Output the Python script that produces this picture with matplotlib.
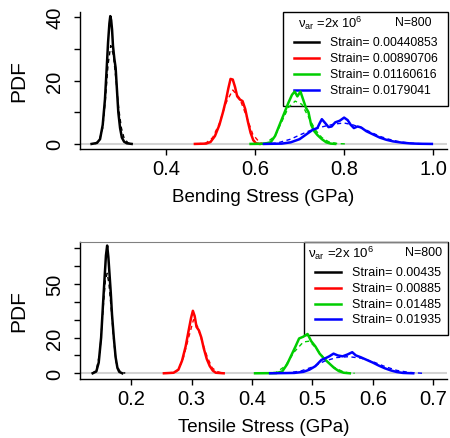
import matplotlib
matplotlib.use("Agg")
import matplotlib.pyplot as plt
from matplotlib.lines import Line2D
from matplotlib.patches import Rectangle

plt.rcParams['font.family'] = ['Liberation Sans', 'DejaVu Sans']
plt.rcParams['mathtext.fontset'] = 'custom'
plt.rcParams['mathtext.rm'] = 'Liberation Sans'

# ---- bending stress densities (GPa vs PDF), solid = empirical, dashed = fitted
bend_labels = ['Strain= 0.00440853', 'Strain= 0.00890706',
               'Strain= 0.01160616', 'Strain= 0.0179041']

bend_k_x = [0.233, 0.245, 0.252, 0.258, 0.263, 0.267, 0.270, 0.273, 0.275, 0.277,
            0.279, 0.281, 0.284, 0.287, 0.290, 0.293, 0.297, 0.301, 0.306, 0.312, 0.323]
bend_k_y = [0, 0.3, 1.5, 6, 14, 24, 32, 38, 40.3, 39,
            36, 31, 27, 24, 17, 10, 5, 2, 0.7, 0.2, 0]
bend_k_fx = [0.240, 0.250, 0.258, 0.264, 0.270, 0.276, 0.282, 0.288, 0.294, 0.300, 0.306, 0.315, 0.325]
bend_k_fy = [0, 1, 5, 14, 25, 31, 28, 20, 11, 5, 1.8, 0.3, 0]

bend_r_x = [0.465, 0.490, 0.500, 0.510, 0.520, 0.528, 0.535, 0.540, 0.545, 0.550,
            0.555, 0.560, 0.566, 0.572, 0.578, 0.584, 0.590, 0.596, 0.602, 0.610]
bend_r_y = [0, 0.1, 0.6, 2.5, 6, 10, 14, 17.5, 20.5, 20.3,
            18, 15, 14, 13.5, 11, 7, 3.5, 1.2, 0.2, 0]
bend_r_fx = [0.470, 0.490, 0.505, 0.520, 0.535, 0.550, 0.565, 0.580, 0.595, 0.610, 0.620]
bend_r_fy = [0, 0.3, 2, 6.5, 13, 17, 14.5, 9, 3, 0.5, 0]

bend_g_x = [0.590, 0.620, 0.635, 0.645, 0.655, 0.665, 0.675, 0.683, 0.689, 0.695, 0.702,
            0.708, 0.714, 0.720, 0.726, 0.733, 0.740, 0.750, 0.760, 0.770, 0.780]
bend_g_y = [0, 0.05, 0.5, 2.5, 6, 9.5, 13, 15.5, 16.5, 15, 16.5,
            14, 11.5, 10, 6, 4, 2.8, 1.5, 0.5, 0.1, 0]
bend_g_fx = [0.600, 0.625, 0.645, 0.660, 0.675, 0.690, 0.705, 0.720, 0.735, 0.750, 0.765, 0.785, 0.806]
bend_g_fy = [0, 0.3, 2.5, 7, 11.5, 13.5, 12.5, 8.5, 4.5, 2, 0.7, 0.1, 0]

bend_b_x = [0.620, 0.660, 0.680, 0.700, 0.715, 0.730, 0.740, 0.745, 0.750, 0.758, 0.765,
            0.772, 0.780, 0.790, 0.800, 0.808, 0.815, 0.822, 0.830, 0.838, 0.850,
            0.865, 0.880, 0.895, 0.910, 0.930, 0.950, 0.970, 0.997]
bend_b_y = [0, 0.1, 0.5, 1.5, 3, 4.5, 5, 6.5, 7.8, 6.5, 5.3,
            5.5, 6.8, 7.3, 8.3, 7.5, 6, 5, 5.5, 5.2, 4,
            3, 2, 1.3, 0.8, 0.4, 0.15, 0.05, 0]
bend_b_fx = [0.620, 0.650, 0.680, 0.700, 0.720, 0.740, 0.760, 0.780, 0.800, 0.820,
             0.840, 0.860, 0.880, 0.900, 0.920, 0.940, 0.960, 0.980, 0.990]
bend_b_fy = [0, 0.3, 1.5, 2.8, 4, 5, 5.7, 6.3, 6.6, 6,
             5, 3.7, 2.4, 1.5, 0.8, 0.4, 0.15, 0.05, 0]

# ---- tensile stress densities
tens_labels = ['Strain= 0.00435', 'Strain= 0.00885',
               'Strain= 0.01485', 'Strain= 0.01935']

tens_k_x = [0.136, 0.142, 0.146, 0.150, 0.153, 0.156, 0.158, 0.160, 0.162,
            0.164, 0.166, 0.168, 0.171, 0.174, 0.177, 0.180, 0.185]
tens_k_y = [0, 1, 6, 20, 38, 55, 66, 71.5, 65,
            55, 45, 33, 20, 9, 3, 0.8, 0]
tens_k_fx = [0.135, 0.142, 0.148, 0.153, 0.157, 0.160, 0.163, 0.167, 0.171, 0.175, 0.180, 0.190]
tens_k_fy = [0, 1.5, 12, 35, 52, 56, 50, 35, 18, 6, 1.5, 0]

tens_r_x = [0.254, 0.270, 0.278, 0.284, 0.290, 0.295, 0.299, 0.302, 0.305,
            0.308, 0.312, 0.316, 0.320, 0.325, 0.330, 0.335, 0.340, 0.353]
tens_r_y = [0, 0.3, 2, 7, 15, 24, 31, 35, 32,
            26, 24, 20, 14, 8, 4, 1.5, 0.3, 0]
tens_r_fx = [0.260, 0.275, 0.285, 0.295, 0.303, 0.310, 0.318, 0.326, 0.334, 0.342, 0.350, 0.355]
tens_r_fy = [0, 1, 7, 20, 30, 26, 17, 9, 3, 1, 0.2, 0]

tens_g_x = [0.405, 0.440, 0.450, 0.458, 0.465, 0.472, 0.478, 0.485, 0.492,
            0.498, 0.505, 0.512, 0.520, 0.528, 0.536, 0.544, 0.552, 0.562]
tens_g_y = [0, 0.1, 1, 5, 10, 15, 19.5, 20.5, 22,
            18, 15, 11, 8, 5.5, 3, 1.2, 0.3, 0]
tens_g_fx = [0.410, 0.440, 0.455, 0.470, 0.485, 0.495, 0.505, 0.520, 0.535, 0.550, 0.560, 0.570]
tens_g_fy = [0, 0.5, 4, 12, 17.5, 18, 14.5, 8, 3.5, 1, 0.2, 0]

tens_b_x = [0.430, 0.470, 0.485, 0.495, 0.505, 0.515, 0.522, 0.528, 0.535, 0.542,
            0.550, 0.558, 0.566, 0.572, 0.580, 0.590, 0.600, 0.610, 0.620,
            0.630, 0.640, 0.650, 0.667]
tens_b_y = [0, 0.2, 0.8, 2, 4, 7.5, 8.5, 9.5, 11, 10,
            9.5, 10.5, 11.8, 10, 9, 7.5, 6, 4.3, 2.8,
            1.6, 0.7, 0.2, 0]
tens_b_fx = [0.430, 0.460, 0.480, 0.500, 0.520, 0.540, 0.560, 0.580, 0.600, 0.620, 0.640, 0.660, 0.683]
tens_b_fy = [0, 0.3, 1.2, 3.5, 6.8, 8.8, 9.3, 8.5, 6.5, 3.8, 1.6, 0.5, 0]

colors = ['black', '#ff0000', '#00cd00', '#0000ff']

W, H = 450, 439
fig = plt.figure(figsize=(W / 100, H / 100), dpi=100)


def px_axes(l, t, r, b):
    return fig.add_axes([l / W, 1 - b / H, (r - l) / W, (b - t) / H])


def style(ax):
    for s in ['top', 'right']:
        ax.spines[s].set_visible(False)
    for s in ['left', 'bottom']:
        ax.spines[s].set_linewidth(1.0)
    ax.tick_params(length=4.3, width=1, labelsize=14.5)
    ax.tick_params(axis='x', pad=3)
    ax.tick_params(axis='y', pad=7)
    for lab in ax.get_yticklabels():
        lab.set_rotation(90)
        lab.set_va('center')


def legend_box(ax, l, t, r, b, labels, hx, lx0, lx1, tx, ny, rows, fs):
    # boxed key placed in figure pixels, kept beneath the curves
    tf = fig.transFigure
    ax.add_artist(Rectangle((l / W, 1 - b / H), (r - l) / W, (b - t) / H,
                            transform=tf, facecolor='white', edgecolor='black',
                            linewidth=1.0, clip_on=False, zorder=1.2))
    ax.text(hx / W, 1 - (t + 10) / H, r'ν$_{\mathregular{ar}}$ =2x 10$^{\mathregular{6}}$',
            transform=tf, fontsize=fs + 0.5, va='center', ha='left', zorder=1.3)
    ax.text(ny / W, 1 - (t + 10) / H, 'N=800', transform=tf,
            fontsize=fs, va='center', ha='right', zorder=1.3)
    for lab, c, y in zip(labels, colors, rows):
        ax.add_artist(Line2D([lx0 / W, lx1 / W], [1 - y / H, 1 - y / H],
                             transform=tf, color=c, linewidth=1.8,
                             clip_on=False, zorder=1.3))
        ax.text(tx / W, 1 - y / H, lab, transform=tf, fontsize=fs,
                va='center', ha='left', zorder=1.3)


# ---- top panel
ax1 = px_axes(80, 13, 447, 150)
ax1.axhline(0, color='#d3d3d3', linewidth=1.5, zorder=0)
bend = [(bend_k_x, bend_k_y, bend_k_fx, bend_k_fy),
        (bend_r_x, bend_r_y, bend_r_fx, bend_r_fy),
        (bend_g_x, bend_g_y, bend_g_fx, bend_g_fy),
        (bend_b_x, bend_b_y, bend_b_fx, bend_b_fy)]
for (x, y, fx, fy), c in zip(bend, colors):
    ax1.plot(x, y, color=c, linewidth=1.8, zorder=2)
    ax1.plot(fx, fy, color=c, linewidth=1.0, linestyle=(0, (3, 2.5)), zorder=2)
ax1.set_xlim(0.207, 1.031)
ax1.set_ylim(-1.6, 41.6)
ax1.set_xticks([0.4, 0.6, 0.8, 1.0])
ax1.set_xticklabels(['0.4', '0.6', '0.8', '1.0'])
ax1.set_yticks([0, 10, 20, 30, 40])
ax1.set_yticklabels(['0', '', '20', '', '40'])
ax1.set_xlabel('Bending Stress (GPa)', fontsize=13.5, labelpad=7)
ax1.set_ylabel('PDF', fontsize=15, labelpad=12)
style(ax1)

# ---- bottom panel
ax2 = px_axes(80, 243, 447, 380)
ax2.axhline(0, color='#d3d3d3', linewidth=1.5, zorder=0)
tens = [(tens_k_x, tens_k_y, tens_k_fx, tens_k_fy),
        (tens_r_x, tens_r_y, tens_r_fx, tens_r_fy),
        (tens_g_x, tens_g_y, tens_g_fx, tens_g_fy),
        (tens_b_x, tens_b_y, tens_b_fx, tens_b_fy)]
for (x, y, fx, fy), c in zip(tens, colors):
    ax2.plot(x, y, color=c, linewidth=1.8, zorder=2)
    ax2.plot(fx, fy, color=c, linewidth=1.0, linestyle=(0, (3, 2.5)), zorder=2)
ax2.set_xlim(0.115, 0.723)
ax2.set_ylim(-3.2, 73.5)
ax2.set_xticks([0.2, 0.3, 0.4, 0.5, 0.6, 0.7])
ax2.set_xticklabels(['0.2', '0.3', '0.4', '0.5', '0.6', '0.7'])
ax2.set_yticks([0, 10, 20, 30, 40, 50, 60, 70])
ax2.set_yticklabels(['0', '', '20', '', '', '50', '', ''])
ax2.set_xlabel('Tensile Stress (GPa)', fontsize=13.5, labelpad=7)
ax2.set_ylabel('PDF', fontsize=15, labelpad=12)
style(ax2)
ax2.spines['top'].set_visible(True)
ax2.spines['top'].set_color('#808080')

legend_box(ax1, 283, 13, 448, 107, bend_labels, 298, 294, 319, 330, 432,
           [43, 59, 75, 91], 8.8)
legend_box(ax2, 304, 243, 448, 336, tens_labels, 308, 315, 341, 352, 442,
           [273, 289, 305, 320], 9.0)

fig.savefig('out.png', dpi=100)
